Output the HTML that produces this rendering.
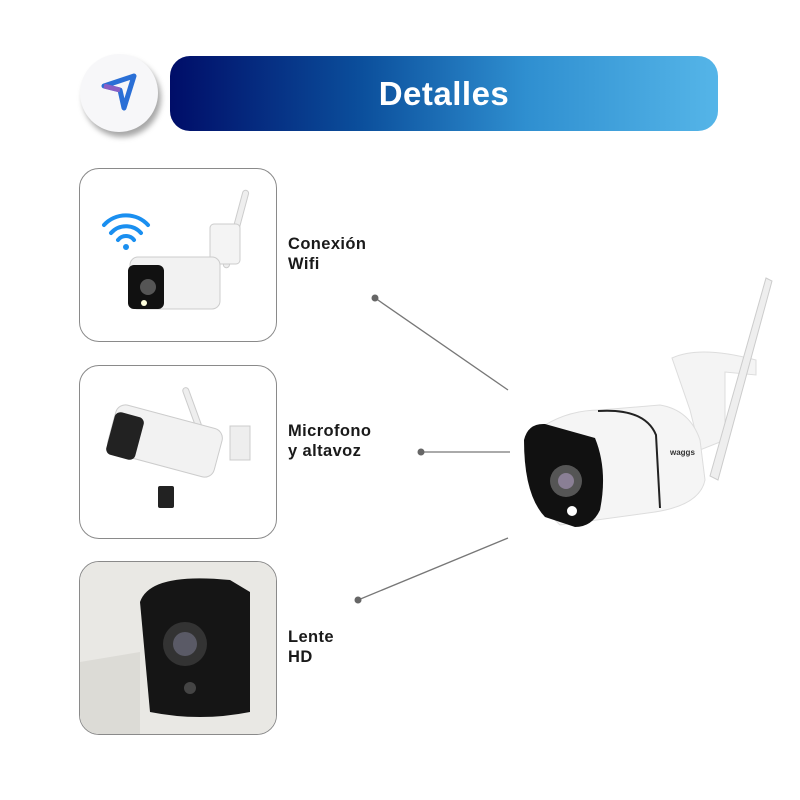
<!DOCTYPE html>
<html><head><meta charset="utf-8"><style>
body{margin:0;width:800px;height:800px;background:#fff;position:relative;overflow:hidden;font-family:"Liberation Sans",sans-serif}
.box{position:absolute;left:79px;width:196px;height:172px;border:1.5px solid #8a8a8a;border-radius:20px;overflow:hidden;background:#fff}
.lab{position:absolute;left:288px;font-weight:bold;font-size:16.5px;letter-spacing:0.4px;line-height:20px;color:#1a1a1a}
</style></head><body>
<div style="position:absolute;left:80px;top:54px;width:78px;height:78px;border-radius:50%;background:#f7f7f9;box-shadow:3px 5px 6px rgba(0,0,0,.35)"></div>
<svg style="position:absolute;left:100px;top:72px" width="40" height="40" viewBox="0 0 40 40"><path d="M4 14 L34 4 L24 36 L20 18 Z" fill="none" stroke="#2a6fd6" stroke-width="5" stroke-linejoin="round"/><path d="M4 14 L20 18" stroke="#8a5fc4" stroke-width="5"/></svg>
<div style="position:absolute;left:170px;top:56px;width:548px;height:75px;border-radius:20px;background:linear-gradient(90deg,#000d68 0%,#0b4f9c 35%,#2f8fd0 65%,#55b5e8 100%);color:#fff;font-weight:bold;font-size:33px;letter-spacing:0.5px;line-height:75px;text-align:center">Detalles</div>

<div class="box" style="top:168px"><svg width="196" height="172">
<g fill="none" stroke="#1a8ff0" stroke-width="4" stroke-linecap="round"><path d="M24 56 a30 30 0 0 1 44 0"/><path d="M31 64 a20 20 0 0 1 30 0"/><path d="M38 71 a10 10 0 0 1 16 0"/></g><circle cx="46" cy="78" r="3" fill="#1a8ff0"/>
<rect x="153" y="20" width="6" height="80" rx="3" fill="#eee" stroke="#ccc" transform="rotate(15 156 60)"/>
<rect x="130" y="55" width="30" height="40" rx="4" fill="#f4f4f4" stroke="#ccc"/>
<rect x="50" y="88" width="90" height="52" rx="8" fill="#f2f2f2" stroke="#ccc"/>
<rect x="48" y="96" width="36" height="44" rx="6" fill="#111"/><circle cx="68" cy="118" r="8" fill="#555"/><circle cx="64" cy="134" r="3" fill="#ffd"/></svg></div>
<div class="lab" style="top:234px">Conexión<br>Wifi</div>

<div class="box" style="top:365px"><svg width="196" height="172">
<rect x="112" y="20" width="6" height="60" rx="3" fill="#eee" stroke="#ccc" transform="rotate(-20 115 50)"/>
<rect x="30" y="50" width="110" height="50" rx="10" fill="#f2f2f2" stroke="#ccc" transform="rotate(15 85 75)"/>
<rect x="30" y="48" width="30" height="44" rx="6" fill="#222" transform="rotate(15 45 70)"/>
<rect x="150" y="60" width="20" height="34" fill="#eee" stroke="#ccc"/>
<rect x="78" y="120" width="16" height="22" rx="2" fill="#222"/></svg></div>
<div class="lab" style="top:421px">Microfono<br>y altavoz</div>

<div class="box" style="top:561px"><svg width="196" height="172">
<rect x="0" y="0" width="196" height="172" fill="#e9e8e4"/>
<path d="M60 40 Q70 10 150 18 L170 30 L170 150 Q120 160 70 150 Z" fill="#151515"/>
<circle cx="105" cy="82" r="22" fill="#333"/><circle cx="105" cy="82" r="12" fill="#5a5a66"/><circle cx="110" cy="126" r="6" fill="#444"/>
<path d="M0 100 L60 90 L60 172 L0 172Z" fill="#dcdbd6"/></svg></div>
<div class="lab" style="top:627px">Lente<br>HD</div>

<svg style="position:absolute;left:0;top:0" width="800" height="800">
<g stroke="#777" stroke-width="1.3"><line x1="375" y1="298" x2="508" y2="390"/><line x1="421" y1="452" x2="510" y2="452"/><line x1="358" y1="600" x2="508" y2="538"/></g>
<g fill="#666"><circle cx="375" cy="298" r="3.5"/><circle cx="421" cy="452" r="3.5"/><circle cx="358" cy="600" r="3.5"/></g>
<path d="M672 358 Q700 345 756 360 L756 375 L725 372 L725 440 L700 450 L690 410Z" fill="#f4f4f4" stroke="#ddd"/>
<path d="M766 278 L772 281 L718 480 L710 476 Z" fill="#eee" stroke="#ccc"/>
<path d="M545 425 Q570 410 600 410 L660 405 Q690 410 700 440 L705 480 Q700 505 655 512 L560 525 L535 500 Z" fill="#f5f5f5" stroke="#ddd"/>
<path d="M598 411 Q645 408 656 435 L660 508" fill="none" stroke="#222" stroke-width="2"/>
<path d="M524 440 Q528 423 545 424 L595 438 Q608 470 600 510 Q592 527 575 527 L545 517 Q524 495 524 440Z" fill="#111"/>
<circle cx="566" cy="481" r="16" fill="#555"/><circle cx="566" cy="481" r="8" fill="#8a7f95"/><circle cx="572" cy="511" r="5" fill="#fff"/>
<text x="670" y="455" font-size="8" font-weight="bold" fill="#333" font-family="Liberation Sans">waggs</text>
</svg>
</body></html>
